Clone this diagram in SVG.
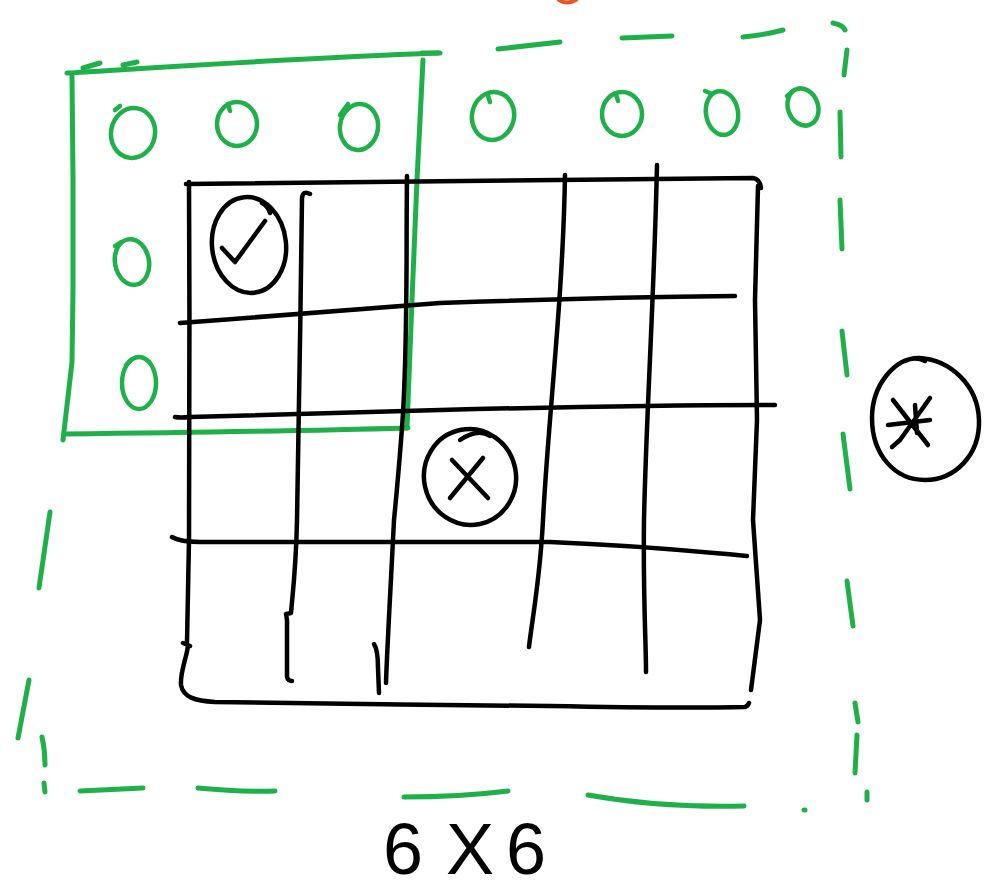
<svg xmlns="http://www.w3.org/2000/svg" width="985" height="894" viewBox="0 0 985 894">
<style>
.g{fill:none;stroke:#1fb04a;stroke-width:5;stroke-linecap:round;stroke-linejoin:round}
.k{fill:none;stroke:#000;stroke-width:4.5;stroke-linecap:round;stroke-linejoin:round}
.o{fill:none;stroke:#1fb04a;stroke-width:4.5;stroke-linecap:round}
.t{font-family:"Liberation Sans",Arial,sans-serif;font-size:72px;fill:#000}
</style>
<rect width="985" height="894" fill="#fff"/>
<path d="M559,0 Q567,5 576,0" fill="none" stroke="#e8562a" stroke-width="4" stroke-linecap="round"/>

<g id="outer-dashed">
<path class="g" d="M83,68 L100,63 M123,65 L137,62 M422,53 L440,53"/>
<path class="g" d="M498,49 L560,42 M622,38 L672,36 M743,37 Q765,35 783,30 M833,23 Q843,25 845,30"/>
<path class="g" d="M847,50 L844,75 M840,112 L841,157 M840,200 L842,249 M842,331 L847,375 M843,434 L850,489 M847,581 L853,626 M855,703 L858,722 M857,735 L855,773 M867,792 L867,800"/>
<path class="g" d="M50,512 L39,588 M29,680 L18,738 M42,737 Q45,750 45,765 M44,783 L45,792"/>
<path class="g" d="M80,791 L143,788 M198,788 Q240,792 275,791 M404,797 Q460,797 508,791 M588,795 Q660,808 744,806 M804,810 L805,810"/>
</g>

<g id="green-box">
<path class="g" d="M67,73 C150,68 300,58 438,53"/>
<path class="g" d="M72,76 L73,180 L73,290 L72,362 L63,440"/>
<path class="g" d="M64,434 C150,433 300,431 408,428"/>
<path class="g" d="M423,60 L419,140 L417,180 L412,300 L407,428"/>
</g>

<g id="green-marks">
<ellipse class="o" cx="133" cy="133" rx="22" ry="25" transform="rotate(10 133 133)"/>
<path class="o" d="M115,110 L120,106"/>
<ellipse class="o" cx="237" cy="124" rx="20" ry="22"/>
<path class="o" d="M228,104 L230,111"/>
<ellipse class="o" cx="359" cy="127" rx="19" ry="23" transform="rotate(8 359 127)"/>
<path class="o" d="M340,115 L348,104"/>
<ellipse class="o" cx="493" cy="116" rx="21" ry="24" transform="rotate(12 493 116)"/>
<path class="o" d="M488,96 L490,102"/>
<ellipse class="o" cx="622" cy="114" rx="20" ry="22"/>
<path class="o" d="M616,94 L618,101"/>
<ellipse class="o" cx="722" cy="113" rx="16" ry="22" transform="rotate(-10 722 113)"/>
<path class="o" d="M705,91 L712,94"/>
<ellipse class="o" cx="803" cy="107" rx="15" ry="19" transform="rotate(-20 803 107)"/>
<path class="o" d="M787,96 L792,92"/>
<ellipse class="o" cx="132" cy="262" rx="17" ry="23" transform="rotate(-10 132 262)"/>
<path class="o" d="M115,246 L121,242"/>
<ellipse class="o" cx="139" cy="383" rx="17" ry="26"/>
<path class="o" d="M126,365 L131,360"/>
</g>

<g id="grid">
<path class="k" d="M186,184 C300,182 500,179 753,178 Q760,179 761,188"/>
<path class="k" d="M189,182 C190,300 189,450 189,540 L187,642 M183,643 L190,646 M188,646 C186,660 180,672 181,685 C183,697 195,701 215,702 C300,704 450,705 550,706 C650,708 700,708 745,707 Q748,706 749,703"/>
<path class="k" d="M758,186 L755,300 L757,420 L753,520 L760,620 L751,690"/>
<path class="k" d="M310,194 Q303,190 302,198 C301,300 298,450 297,520 C296,570 292,600 291,613 L286,614 L287,620 L287,677 Q288,681 292,681"/>
<path class="k" d="M407,176 C406,250 408,350 402,428 C398,480 395,510 394,520 C390,600 387,650 386,683"/>
<path class="k" d="M374,644 Q378,650 378,668 L379,693"/>
<path class="k" d="M565,175 C563,300 548,420 543,520 C540,580 532,620 529,647"/>
<path class="k" d="M657,165 C654,300 646,420 644,520 C643,600 646,640 646,672"/>
<path class="k" d="M180,323 C250,318 300,313 440,303 C550,299 650,297 735,296"/>
<path class="k" d="M175,417 Q180,418 190,417 C300,414 400,411 440,410 C600,406 700,405 775,405"/>
<path class="k" d="M172,537 Q180,542 200,542 C300,541 400,541 550,542 C650,546 700,552 747,556"/>
</g>

<g id="check">
<ellipse class="k" cx="249" cy="245" rx="37" ry="48" transform="rotate(-6 249 245)"/>
<path class="k" d="M222,248 L235,262 L265,221 M262,203 Q268,206 270,213"/>
</g>

<g id="cross">
<ellipse class="k" cx="470" cy="477" rx="46" ry="48" transform="rotate(-12 470 477)"/>
<path class="k" d="M460,440 Q478,428 490,436 M452,460 L488,498 M483,458 L450,498"/>
</g>

<g id="star">
<path class="k" d="M920,358 C950,360 978,385 979,420 C980,455 955,480 925,480 C895,480 872,455 872,418 C872,385 895,357 920,358 Z M905,361 Q915,356 925,361"/>
<path class="k" d="M893,400 L928,445 M930,398 L900,440 L892,447 M888,425 L930,420 M915,405 L917,433"/>
</g>

<text class="t" y="874"><tspan x="383">6</tspan><tspan x="446">X</tspan><tspan x="506">6</tspan></text>
</svg>
